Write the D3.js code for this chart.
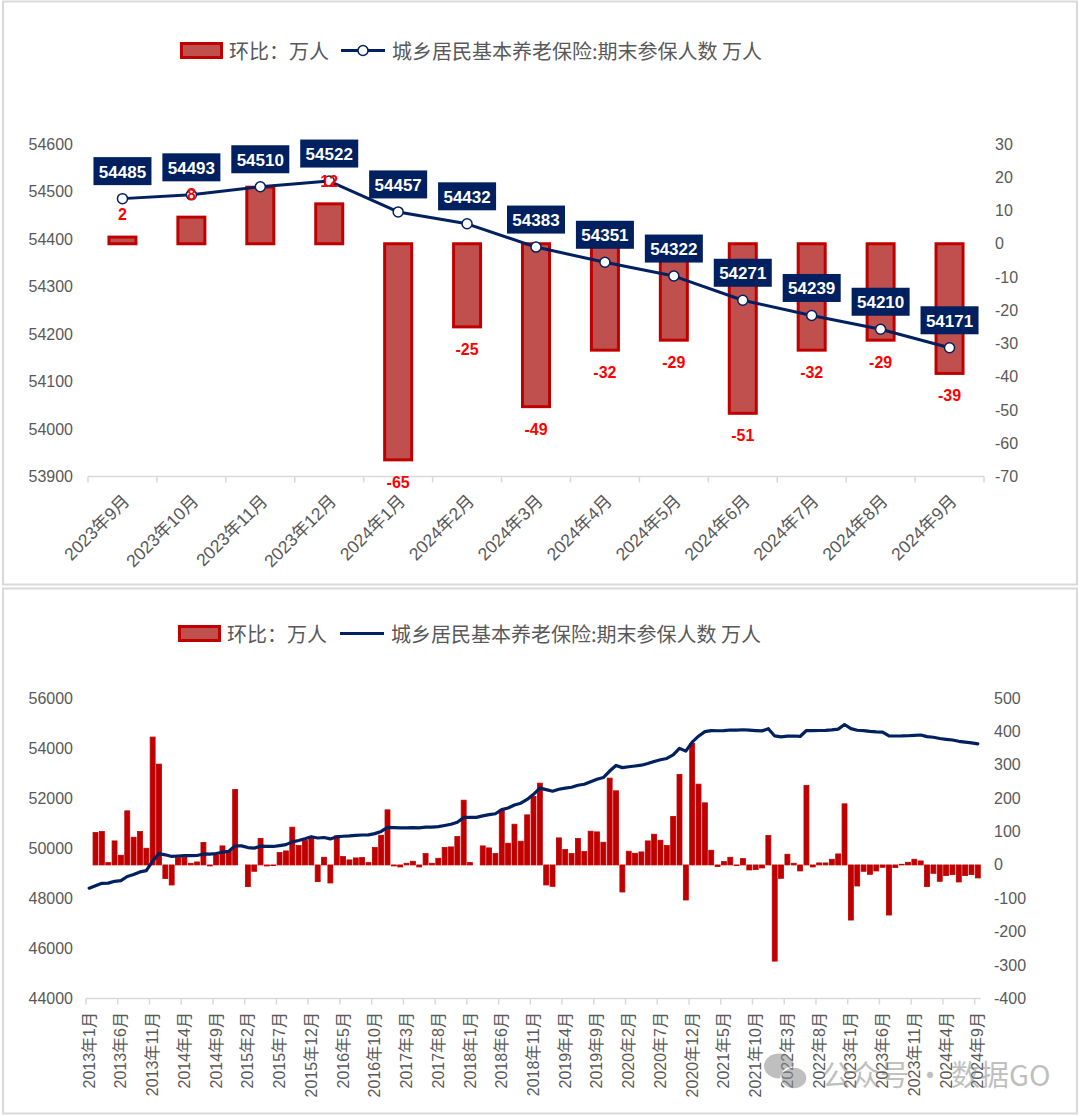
<!DOCTYPE html>
<html><head><meta charset="utf-8">
<script src="https://cdn.jsdelivr.net/npm/d3@7"></script>
<style>body{margin:0;background:#fff}</style>
</head><body>
<svg id="c" width="1080" height="1116" xmlns="http://www.w3.org/2000/svg"></svg>
<script>
// ---------- DATA ----------
const topCategories = ["2023年9月","2023年10月","2023年11月","2023年12月","2024年1月","2024年2月","2024年3月","2024年4月","2024年5月","2024年6月","2024年7月","2024年8月","2024年9月"];
const topChange = [2, 8, 17, 12, -65, -25, -49, -32, -29, -51, -32, -29, -39];
const topTotal = [54485, 54493, 54510, 54522, 54457, 54432, 54383, 54351, 54322, 54271, 54239, 54210, 54171];
const topLeftTicks = [53900, 54000, 54100, 54200, 54300, 54400, 54500, 54600];
const topRightTicks = [-70, -60, -50, -40, -30, -20, -10, 0, 10, 20, 30];

const seriesChangeName = "环比：万人";
const seriesTotalName = "城乡居民基本养老保险:期末参保人数 万人";

// monthly categories 2013-01 .. 2024-09
const monthCategories = [];
for (let y = 2013; y <= 2024; y++) for (let m = 1; m <= 12; m++) { if (y === 2024 && m > 9) break; monthCategories.push(y + "年" + m + "月"); }

const monthChange = [
  null,97,100,7,72,29,162,83,100,50,383,302,
  -41,-60,22,22,5,9,67,-3,30,57,40,226,
  null,-65,-19,79,-3,-2,37,42,113,58,73,80,
  -50,23,-54,87,25,15,21,22,7,52,89,165,
  -3,-6,5,11,-6,34,5,20,52,54,85,194,
  7,null,57,51,34,165,65,122,71,150,205,245,
  -60,-64,81,46,34,79,40,101,99,68,260,222,
  -81,41,35,39,72,92,74,58,145,271,-105,364,
  242,186,44,-5,10,23,-2,19,-15,-14,-9,88,
  -288,-40,32,5,-18,238,-6,6,6,17,33,183,
  -165,-63,-19,-28,-18,-7,-150,-8,2,8,17,12,
  -65,-25,-49,-32,-29,-51,-32,-29,-39
];
const monthTotal = [
  48404,48501,48601,48608,48680,48709,48871,48954,49054,49104,49487,49784,
  49738,49673,49690,49707,49707,49711,49773,49765,49790,49842,49877,50098,
  50095,50028,50006,50082,50076,50071,50106,50145,50255,50311,50382,50461,
  50409,50429,50373,50457,50480,50492,50511,50530,50535,50584,50671,50833,
  50826,50816,50817,50824,50814,50844,50845,50861,50909,50959,51040,51231,
  51235,51235,51292,51343,51377,51542,51607,51729,51800,51950,52155,52400,
  52340,52276,52357,52403,52437,52516,52556,52657,52756,52824,53084,53306,
  53220,53255,53284,53316,53382,53467,53535,53586,53725,53989,53878,54236,
  54475,54659,54700,54693,54700,54721,54716,54733,54715,54699,54687,54773,
  54485,54445,54477,54482,54464,54702,54696,54702,54708,54725,54758,54941,
  54776,54713,54694,54666,54648,54641,54491,54483,54485,54493,54510,54522,
  54457,54432,54383,54351,54322,54271,54239,54210,54171
];
const monthLeftTicks = [44000, 46000, 48000, 50000, 52000, 54000, 56000];
const monthRightTicks = [-400, -300, -200, -100, 0, 100, 200, 300, 400, 500];

// ---------- STYLE ----------
const NAVY = "#002060", RED = "#C00000", BARFILL = "#C0504D", GREY = "#595959", AXIS = "#D9D9D9";
const FONT = "'Liberation Sans','Noto Sans CJK SC',sans-serif";
const CJK = "'Noto Sans CJK SC','Liberation Sans',sans-serif";

const svg = d3.select("#c");
svg.append("rect").attr("width",1080).attr("height",1116).attr("fill","#fff");

// frames
svg.append("rect").attr("x",3).attr("y",1.5).attr("width",1074).attr("height",583).attr("fill","none").attr("stroke",AXIS).attr("stroke-width",2);
svg.append("rect").attr("x",3).attr("y",588.5).attr("width",1074).attr("height",525).attr("fill","none").attr("stroke",AXIS).attr("stroke-width",2);

function legend(g, y, withMarker, rectX, lineX) {
  g.append("rect").attr("x",rectX+1.5).attr("y",y-7).attr("width",40).attr("height",14)
    .attr("fill",BARFILL).attr("stroke",RED).attr("stroke-width",3);
  g.append("text").attr("x",rectX+49).attr("y",y).attr("dominant-baseline","central")
    .attr("font-family",CJK).attr("font-size",20).attr("fill",GREY).text(seriesChangeName);
  g.append("line").attr("x1",lineX).attr("x2",lineX+44).attr("y1",y).attr("y2",y)
    .attr("stroke",NAVY).attr("stroke-width",3);
  if (withMarker) g.append("circle").attr("cx",lineX+22).attr("cy",y).attr("r",5)
    .attr("fill","#fff").attr("stroke",NAVY).attr("stroke-width",1.5);
  g.append("text").attr("x",lineX+51).attr("y",y).attr("dominant-baseline","central")
    .attr("font-family",CJK).attr("font-size",20).attr("fill",GREY).text(seriesTotalName);
}

// ---------- TOP CHART ----------
{
  const g = svg.append("g");
  legend(g, 50.5, true, 180, 341);
  const x = d3.scaleBand().domain(topCategories).range([88, 984]);
  const yL = d3.scaleLinear().domain([53900, 54600]).range([476.5, 144]);
  const yR = d3.scaleLinear().domain([-70, 30]).range([476.5, 144]);
  const cx = c => x(c) + x.bandwidth()/2;
  const data = topCategories.map((c,i)=>({c, ch: topChange[i], tot: topTotal[i]}));

  // axis tick labels
  g.selectAll(".yl").data(topLeftTicks).join("text").attr("x",73).attr("y",d=>yL(d))
    .attr("text-anchor","end").attr("dominant-baseline","central")
    .attr("font-family",FONT).attr("font-size",16).attr("fill",GREY).text(d=>d);
  g.selectAll(".yr").data(topRightTicks).join("text").attr("x",995).attr("y",d=>yR(d))
    .attr("text-anchor","start").attr("dominant-baseline","central")
    .attr("font-family",FONT).attr("font-size",16).attr("fill",GREY).text(d=>d);

  // x axis
  g.append("line").attr("x1",88).attr("x2",984).attr("y1",476.5).attr("y2",476.5).attr("stroke",AXIS).attr("stroke-width",1.5);
  const bounds = topCategories.map(c=>x(c)).concat([984]);
  g.selectAll(".tk").data(bounds).join("line").attr("x1",d=>d).attr("x2",d=>d).attr("y1",476.5).attr("y2",482.5)
    .attr("stroke",AXIS).attr("stroke-width",1.5);
  g.selectAll(".xl").data(topCategories).join("text")
    .attr("transform",c=>`translate(${cx(c)+4},${498}) rotate(-45)`)
    .attr("text-anchor","end").attr("dominant-baseline","central")
    .attr("font-family",FONT).attr("font-size",17.5).attr("fill",GREY).text(c=>c);

  // bars
  const bw = 27;
  g.selectAll(".bar").data(data).join("rect")
    .attr("x",d=>cx(d.c)-bw/2).attr("width",bw)
    .attr("y",d=>Math.min(yR(0),yR(d.ch))).attr("height",d=>Math.abs(yR(d.ch)-yR(0)))
    .attr("fill",BARFILL).attr("stroke",RED).attr("stroke-width",3);

  // line
  g.append("path").datum(data).attr("fill","none").attr("stroke",NAVY).attr("stroke-width",3)
    .attr("stroke-linejoin","round")
    .attr("d",d3.line().x(d=>cx(d.c)).y(d=>yL(d.tot)));
  g.selectAll(".mk").data(data).join("circle").attr("cx",d=>cx(d.c)).attr("cy",d=>yL(d.tot)).attr("r",5)
    .attr("fill","#fff").attr("stroke",NAVY).attr("stroke-width",1.5);

  // bar labels (a label that falls under a value box is hidden, as in the original)
  const boxY = d => yL(d.tot) - 27.5;
  const labY = d => d.ch>=0 ? yR(d.ch)-22.5 : yR(d.ch)+22.5;
  const hidden = d => Math.abs(labY(d) - boxY(d)) < 14 + 6;
  g.selectAll(".bl").data(data.filter(d=>!hidden(d))).join("text").attr("x",d=>cx(d.c))
    .attr("y",labY)
    .attr("text-anchor","middle").attr("dominant-baseline","central")
    .attr("font-family",FONT).attr("font-size",16).attr("font-weight","bold").attr("fill","#FF0000")
    .text(d=>d.ch);

  // value boxes
  const bg = g.selectAll(".vb").data(data).join("g").attr("transform",d=>`translate(${cx(d.c)},${boxY(d)})`);
  bg.append("rect").attr("x",-29).attr("y",-14).attr("width",58).attr("height",28).attr("fill",NAVY);
  bg.append("text").attr("text-anchor","middle").attr("dominant-baseline","central").attr("y",1)
    .attr("font-family",FONT).attr("font-size",17).attr("font-weight","bold").attr("fill","#fff").text(d=>d.tot);
}

// ---------- BOTTOM CHART ----------
{
  const g = svg.append("g");
  legend(g, 633.5, false, 178, 340);
  const x = d3.scaleBand().domain(monthCategories).range([86, 981]);
  const yL = d3.scaleLinear().domain([44000, 56000]).range([998.5, 698]);
  const yR = d3.scaleLinear().domain([-400, 500]).range([998.5, 698]);
  const cx = c => x(c) + x.bandwidth()/2;
  const data = monthCategories.map((c,i)=>({c, ch: monthChange[i], tot: monthTotal[i], i}));

  g.selectAll(".yl").data(monthLeftTicks).join("text").attr("x",73).attr("y",d=>yL(d))
    .attr("text-anchor","end").attr("dominant-baseline","central")
    .attr("font-family",FONT).attr("font-size",16).attr("fill",GREY).text(d=>d);
  g.selectAll(".yr").data(monthRightTicks).join("text").attr("x",994).attr("y",d=>yR(d))
    .attr("text-anchor","start").attr("dominant-baseline","central")
    .attr("font-family",FONT).attr("font-size",16).attr("fill",GREY).text(d=>d);

  g.append("line").attr("x1",86).attr("x2",981).attr("y1",998.5).attr("y2",998.5).attr("stroke",AXIS).attr("stroke-width",1.5);
  const lab = data.filter(d=>d.i%5===0);
  g.selectAll(".tk").data(lab).join("line").attr("x1",d=>x(d.c)).attr("x2",d=>x(d.c)).attr("y1",998.5).attr("y2",1004.5)
    .attr("stroke",AXIS).attr("stroke-width",1.5);
  g.selectAll(".xl").data(lab).join("text")
    .attr("transform",d=>`translate(${cx(d.c)},${1012}) rotate(-90)`)
    .attr("text-anchor","end").attr("dominant-baseline","central")
    .attr("font-family",FONT).attr("font-size",16).attr("fill",GREY).text(d=>d.c);

  const bw = x.bandwidth()*0.78;
  g.selectAll(".bar").data(data.filter(d=>d.ch!==null)).join("rect")
    .attr("x",d=>cx(d.c)-bw/2).attr("width",bw)
    .attr("y",d=>Math.min(yR(0),yR(d.ch))).attr("height",d=>Math.abs(yR(d.ch)-yR(0)))
    .attr("fill",RED).attr("stroke",RED).attr("stroke-width",0.8);

  g.append("path").datum(data).attr("fill","none").attr("stroke",NAVY).attr("stroke-width",3.2)
    .attr("stroke-linejoin","round").attr("stroke-linecap","round")
    .attr("d",d3.line().x(d=>cx(d.c)).y(d=>yL(d.tot)));
}

// ---------- WATERMARK ----------
{
  const w = svg.append("g").attr("opacity",0.55);
  w.append("ellipse").attr("cx",779).attr("cy",1066).attr("rx",15).attr("ry",12.5).attr("fill","#8c8c8c");
  w.append("ellipse").attr("cx",794).attr("cy",1078).attr("rx",13).attr("ry",11).attr("fill","#8c8c8c").attr("stroke","#fff").attr("stroke-width",1.5);
  w.append("text").attr("x",822).attr("y",1073).attr("dominant-baseline","central")
    .attr("font-family",CJK).attr("font-size",29).attr("fill","#8c8c8c").text("公众号 · 数据GO");
}
</script>
</body></html>
